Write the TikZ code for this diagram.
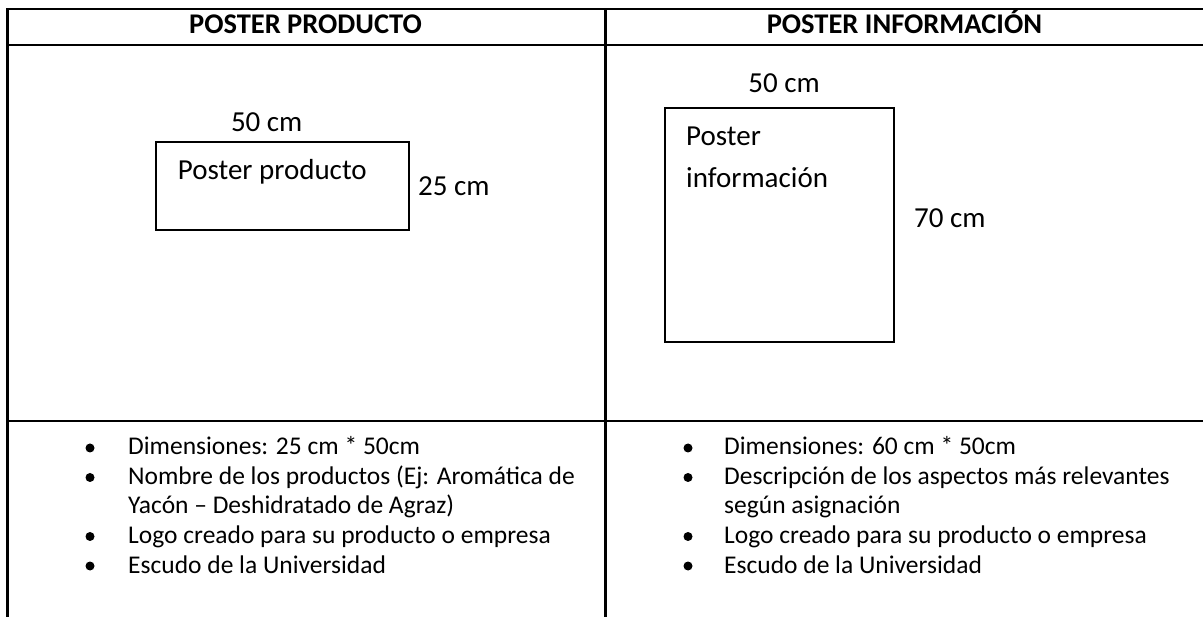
\documentclass[tikz,border=0pt]{standalone}
\usepackage{fontspec}
\setmainfont{Carlito}
\usetikzlibrary{positioning}

\tikzset{
  rejilla/.style={line width=2.8pt},
  cartel/.style={draw, line width=1.8pt},
  texto/.style={inner sep=0pt, font=\fontsize{25.5}{30}\selectfont},
  medida/.style={inner sep=0pt, font=\fontsize{29}{34}\selectfont},
  titulo/.style={inner sep=0pt, font=\fontsize{28.5}{34}\selectfont\bfseries},
  vineta/.style={circle, fill, inner sep=0pt, minimum size=9pt},
}

\begin{document}
\begin{tikzpicture}[x=1pt, y=-1pt]
    \useasboundingbox (0,0) rectangle (1203,617);
    % rejilla de la tabla
    \draw[rejilla] (7.7,617) -- (7.7,9) -- (1203,9);
    \draw[rejilla] (7.7,45) -- (1203,45);
    \draw[rejilla] (7.7,421) -- (1203,421);
    \draw[rejilla] (605.7,9) -- (605.7,617);

    % encabezados
    \node[titulo, anchor=base] (tit1) at (305.5,34) {POSTER PRODUCTO};
    \node[titulo, anchor=base] (tit2) at (904.4,34) {POSTER INFORMACIÓN};

    % poster producto
    \draw[cartel] (156,142) rectangle (409,230);
    \node[medida, anchor=base] (ancho1) at (266.7,132) {50 cm};
    \node[medida, anchor=base west] (nom1) at (177.7,180) {Poster producto};
    \node[medida, anchor=base west] (alto1) at (418,196) {25 cm};

    % poster informacion
    \draw[cartel] (665,108.3) rectangle (894.3,341.7);
    \node[medida, anchor=base] (ancho2) at (784,93) {50 cm};
    \node[medida, anchor=base west] (nom2a) at (686,146) {Poster};
    \node[medida, anchor=base west] (nom2b) at (686,187.7) {información};
    \node[medida, anchor=base west] (alto2) at (914,227.7) {70 cm};

    % lista izquierda
    \node[vineta] (v1) at (90,448) {};
    \node[texto, anchor=base west] (i1) at (128,455) {Dimensiones: 25 cm * 50cm};
    \node[vineta] (v2) at (90,477.5) {};
    \node[texto, anchor=base west] (i2) at (128,484.5) {Nombre de los productos (Ej: Aromática de};
    \node[texto, anchor=base west] (i2b) at (128,514) {Yacón – Deshidratado de Agraz)};
    \node[vineta] (v3) at (90,536.5) {};
    \node[texto, anchor=base west] (i3) at (128,543.5) {Logo creado para su producto o empresa};
    \node[vineta] (v4) at (90,566) {};
    \node[texto, anchor=base west] (i4) at (128,573) {Escudo de la Universidad};

    % lista derecha
    \node[vineta] (w1) at (688,448) {};
    \node[texto, anchor=base west] (j1) at (724,455) {Dimensiones: 60 cm * 50cm};
    \node[vineta] (w2) at (688,477.5) {};
    \node[texto, anchor=base west] (j2) at (724,484.5) {Descripción de los aspectos más relevantes};
    \node[texto, anchor=base west] (j2b) at (724,514) {según asignación};
    \node[vineta] (w3) at (688,536.5) {};
    \node[texto, anchor=base west] (j3) at (724,543.5) {Logo creado para su producto o empresa};
    \node[vineta] (w4) at (688,566) {};
    \node[texto, anchor=base west] (j4) at (724,573) {Escudo de la Universidad};
\end{tikzpicture}
\end{document}
